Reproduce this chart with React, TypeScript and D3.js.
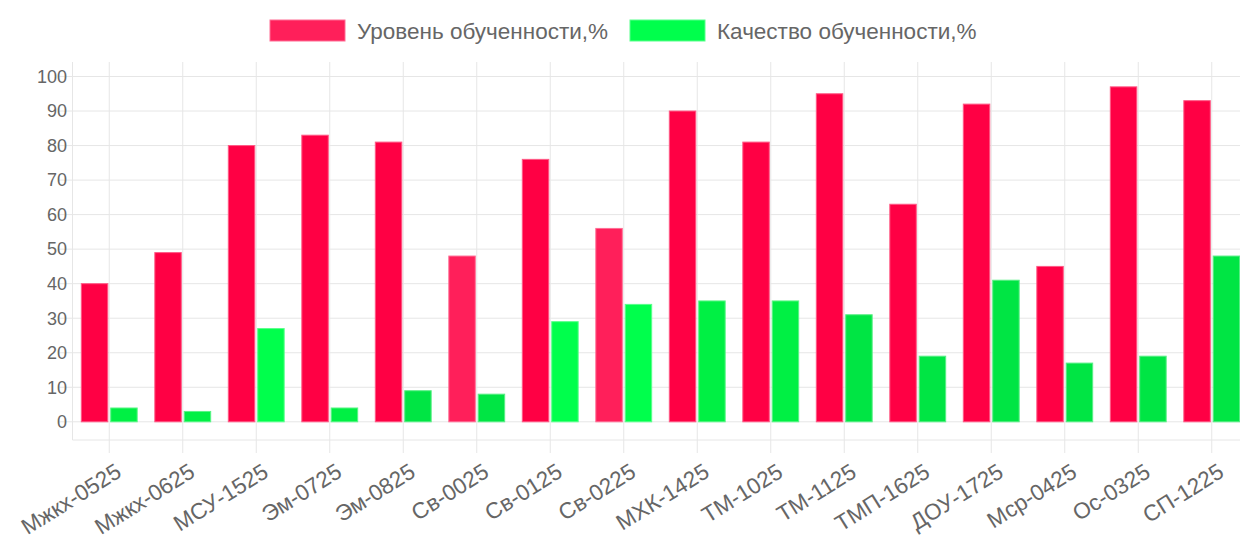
import React from 'react';
import * as d3 from 'd3';

const groups = [
  'Мжкх-0525', 'Мжкх-0625', 'МСУ-1525', 'Эм-0725', 'Эм-0825', 'Св-0025', 'Св-0125', 'Св-0225',
  'МХК-1425', 'ТМ-1025', 'ТМ-1125', 'ТМП-1625', 'ДОУ-1725', 'Мср-0425', 'Ос-0325', 'СП-1225',
];
const levelValues = [40, 49, 80, 83, 81, 48, 76, 56, 90, 81, 95, 63, 92, 45, 97, 93];
const qualityValues = [4, 3, 27, 4, 9, 8, 29, 34, 35, 35, 31, 19, 41, 17, 19, 48];
// bars are not all the same shade in the source
const levelColors = [
  '#ff0044', '#ff0044', '#ff0044', '#ff0044', '#ff0044', '#ff1f5a', '#ff0044', '#ff1f5a',
  '#ff0044', '#ff0044', '#ff0044', '#ff0044', '#ff0044', '#ff0044', '#ff0044', '#ff0044',
];
const qualityColors = [
  '#00f044', '#00f044', '#00ff4c', '#00f044', '#00e544', '#00e544', '#00ff4c', '#00ff4c',
  '#00f044', '#00f044', '#00e544', '#00e544', '#00e544', '#00e544', '#00e544', '#00e544',
];
const seriesNames = ['Уровень обученности,%', 'Качество обученности,%'];
const legendColors = ['#ff1f5a', '#00ff4c'];
const yTicks = [0, 10, 20, 30, 40, 50, 60, 70, 80, 90, 100];

const W = 1240;
const H = 541;
const left = 72.5;
const right = 1248.5;
const top = 62;
const axisY = 440;
const font = 'Arial, "Liberation Sans", Helvetica, sans-serif';
const textColor = '#666';
const gridColor = '#e6e6e6';

export default function App() {
  const x = d3.scaleBand<string>().domain(groups).range([left, right]);
  const y = d3.scaleLinear().domain([0, 100]).range([421.8, 76.5]);
  const slot = x.bandwidth() * 0.8 / 2;
  const barW = slot * 0.9;
  const center = (g: string) => (x(g) ?? 0) + x.bandwidth() / 2;

  const lighten = (c: string) => d3.interpolateRgb(c, '#ffffff')(0.35);

  return (
    <svg width={W} height={H} style={{ position: 'absolute', left: 0, top: 0, background: '#fff' }}
      fontFamily={font}>
      {/* legend */}
      {seriesNames.map((name, i) => {
        const lx = i === 0 ? 270 : 630;
        return (
          <g key={name}>
            <rect x={lx} y={20} width={75} height={21} fill={legendColors[i]}
              stroke={lighten(legendColors[i])} strokeWidth={1} />
            <text x={lx + 87} y={31} dy="0.35em" fontSize={22.5} fill={textColor}>{name}</text>
          </g>
        );
      })}

      {/* horizontal grid */}
      {yTicks.map(t => (
        <g key={t}>
          <line x1={58} x2={W} y1={y(t)} y2={y(t)} stroke={gridColor} strokeWidth={1} />
          <text x={67} y={y(t)} dy="0.35em" textAnchor="end" fontSize={18} fill={textColor}>{t}</text>
        </g>
      ))}
      <line x1={left} x2={W} y1={axisY} y2={axisY} stroke={gridColor} strokeWidth={1} />
      <line x1={left} x2={left} y1={top} y2={axisY} stroke={gridColor} strokeWidth={1} />

      {/* vertical grid at category centres */}
      {groups.map(g => (
        <line key={g} x1={center(g)} x2={center(g)} y1={top} y2={453} stroke={gridColor} strokeWidth={1} />
      ))}

      {/* bars */}
      {groups.map((g, i) => {
        const c = center(g);
        return (
          <g key={g}>
            <rect x={c - slot + (slot - barW) / 2} y={y(levelValues[i])} width={barW}
              height={y(0) - y(levelValues[i])} fill={levelColors[i]}
              stroke={lighten(levelColors[i])} strokeWidth={1} />
            <rect x={c + (slot - barW) / 2} y={y(qualityValues[i])} width={barW}
              height={y(0) - y(qualityValues[i])} fill={qualityColors[i]}
              stroke={lighten(qualityColors[i])} strokeWidth={1} />
          </g>
        );
      })}

      {/* x labels */}
      {groups.map(g => (
        <text key={g} transform={`translate(${center(g) + 5},${462}) rotate(-32)`}
          textAnchor="end" dy="0.72em" fontSize={22.5} fill={textColor}>{g}</text>
      ))}
    </svg>
  );
}
